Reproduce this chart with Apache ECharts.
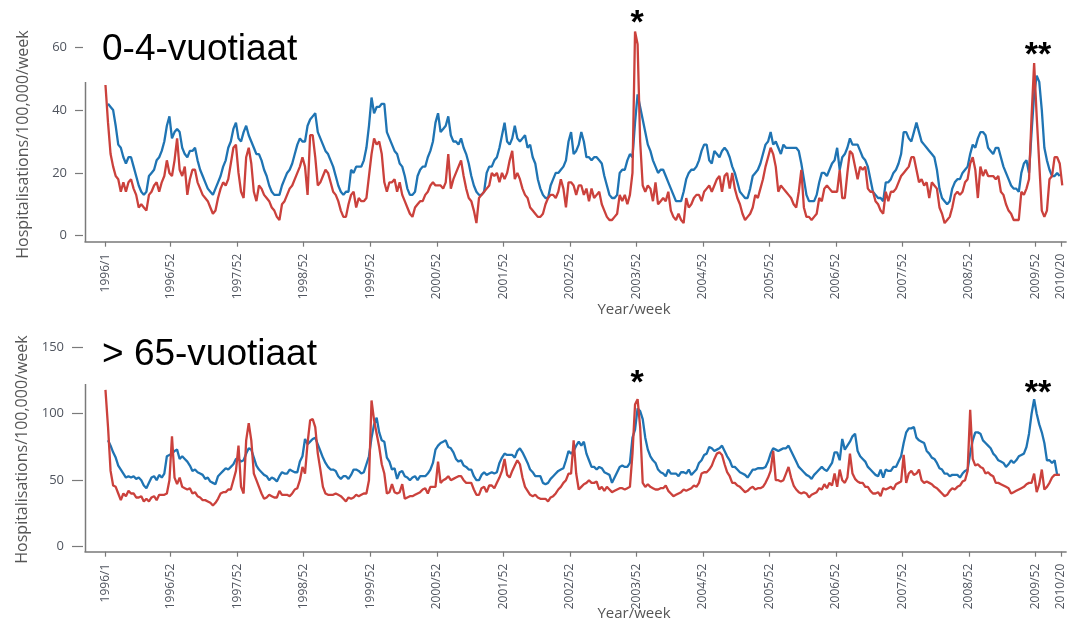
<!DOCTYPE html>
<html>
<head>
<meta charset="utf-8">
<title>Hospitalisations / 100,000 / week</title>
<script src="https://cdn.jsdelivr.net/npm/echarts@6.0.0/dist/echarts.min.js"></script>
<style>
  html, body { margin: 0; padding: 0; background: #fff; }
  #main { width: 1067px; height: 623px; }
</style>
</head>
<body>
<div id="main"></div>
<script>
// weekly series sampled every 2 weeks, index 0 = 1996/1
const WEEK_STEP = 2;

// x-axis ticks (week number counted from 1996/1) and their labels
const tickWeeks = [0, 51, 103, 155, 207, 259, 311, 363, 415, 467, 519, 571, 623, 675, 727, 747];
const tickLabels = ['1996/1', '1996/52', '1997/52', '1998/52', '1999/52', '2000/52', '2001/52',
  '2002/52', '2003/52', '2004/52', '2005/52', '2006/52', '2007/52', '2008/52', '2009/52', '2010/20'];

const yTicksKids = [0, 20, 40, 60];
const yTicksOld = [0, 50, 100, 150];

// 0-4 year olds, blue
const kidsBlue = [null,
  42,41,40,35,29,28,25,23,25,25,22,19,16,14,13,14,19,20,21,24,25,27,30,35,38,
  31,33,34,33,28,26,25,27,27,28,24,21,19,17,15,14,13,15,17,19,22,24,28,30,34,
  36,31,30,33,35,32,30,28,26,26,24,21,19,16,14,13,13,13,16,18,20,21,23,26,29,
  31,30,30,35,37,38,39,33,31,29,27,26,24,22,19,16,14,13,14,14,21,20,22,22,22,
  24,28,35,44,39,41,41,42,42,33,31,29,27,26,23,22,19,15,13,13,14,19,21,22,22,
  25,27,30,36,39,33,34,35,38,32,30,30,29,31,28,26,23,19,16,14,13,13,14,20,22,
  22,24,25,28,32,36,30,29,31,35,31,30,31,32,28,29,25,23,18,15,13,12,12,16,18,
  20,20,21,22,24,30,33,26,27,29,33,30,25,25,24,25,25,24,23,19,16,13,12,12,13,
  20,21,21,24,26,25,36,45,41,37,33,29,27,24,22,20,21,21,19,17,15,13,11,11,11,
  14,18,20,21,21,22,24,27,29,29,24,23,27,26,25,27,28,27,25,22,20,17,14,13,12,
  12,15,19,20,21,23,26,29,30,33,29,30,28,26,29,28,28,28,28,28,27,23,18,13,11,
  11,11,13,17,20,20,19,21,23,24,28,21,25,26,28,31,29,29,29,27,25,24,22,18,14,
  13,12,12,11,17,17,18,20,21,23,26,33,33,31,30,33,36,33,30,29,28,27,26,25,21,
  15,12,11,10,11,15,17,18,18,20,21,22,26,29,28,31,33,33,32,28,27,26,28,28,25,
  22,20,18,16,15,15,14,20,23,24,20,33,45,51,49,40,28,24,21,19,19,20,19];

// 0-4 year olds, red
const kidsRed = [48,
  36,26,22,19,18,14,17,14,17,18,15,13,9,10,9,8,13,14,16,17,14,17,19,24,20,
  19,24,31,21,19,22,13,18,21,21,17,15,13,12,11,9,7,8,12,15,17,16,18,23,28,
  29,20,14,12,25,28,23,14,11,16,15,13,12,11,9,8,6,5,10,11,13,15,16,18,20,
  22,25,22,13,32,32,25,16,17,19,21,20,17,14,13,11,8,6,6,10,13,14,9,12,11,
  11,12,19,26,31,29,30,26,17,14,17,17,18,14,17,13,11,9,7,6,9,10,11,11,13,
  14,16,17,16,16,16,15,17,26,15,18,20,22,24,19,15,12,11,8,4,12,13,14,15,16,
  20,19,20,17,20,18,20,24,27,18,20,18,15,13,12,9,8,7,6,6,7,10,12,13,13,
  12,14,18,15,9,17,17,16,13,16,16,13,15,11,15,12,13,14,10,8,6,5,5,6,7,
  13,11,13,10,13,20,65,61,30,16,14,16,15,11,17,10,11,12,11,14,8,6,5,7,5,
  4,12,9,10,12,13,13,11,14,15,16,14,16,18,19,14,19,20,15,20,15,12,10,7,5,
  6,7,9,13,12,15,18,22,25,28,26,22,14,16,15,14,13,12,10,9,14,21,9,6,6,
  5,6,7,12,11,15,16,15,14,14,14,21,12,12,20,27,26,22,18,22,21,22,15,14,14,
  11,10,8,7,14,11,14,14,15,17,19,20,21,22,25,25,21,17,18,16,17,12,17,16,15,
  9,7,4,5,6,9,13,14,13,14,17,18,23,25,21,12,22,19,21,19,19,19,18,19,14,
  13,10,8,7,5,5,5,14,13,15,18,38,55,38,23,8,6,8,18,19,25,25,23,16];

// over 65 year olds, blue
const oldBlue = [null,
  80,76,71,67,61,58,55,52,53,52,53,51,52,50,46,44,48,52,53,50,54,52,55,68,69,
  70,72,73,66,68,66,64,61,57,58,56,55,54,51,52,49,48,47,53,55,57,59,58,60,62,
  66,66,64,65,70,74,73,67,61,58,56,54,53,50,52,51,49,53,56,55,55,58,57,56,56,
  64,68,81,77,79,81,82,77,72,67,63,60,58,58,57,53,51,53,53,51,54,58,58,57,55,
  56,62,68,82,92,97,86,80,79,67,64,58,59,51,56,57,53,52,50,52,53,50,53,53,53,
  55,58,63,73,76,78,79,80,75,74,71,66,64,65,61,60,58,58,53,50,50,54,56,54,55,
  56,55,56,63,67,70,69,69,69,67,72,74,71,67,63,58,56,53,53,53,48,47,48,51,53,
  55,57,58,59,65,72,70,72,76,79,76,79,70,65,60,60,58,60,59,56,55,54,48,52,56,
  60,61,60,60,63,82,88,104,102,96,82,73,68,65,63,58,56,55,53,58,55,55,55,53,56,
  56,55,58,54,56,58,63,65,69,70,75,74,72,73,74,76,72,68,65,60,60,58,56,55,54,
  52,55,58,58,59,59,59,60,64,70,74,73,72,73,74,74,76,72,68,64,60,58,56,54,53,
  51,54,56,58,60,58,57,60,63,71,71,65,81,73,76,79,83,85,72,68,66,64,60,58,56,
  54,53,58,52,58,57,57,60,60,64,68,78,86,89,89,90,82,80,79,78,72,70,67,66,63,
  59,58,55,55,53,54,54,54,52,55,57,58,70,80,86,86,85,80,78,76,74,70,68,65,64,
  63,60,62,65,63,65,68,69,70,75,85,100,111,100,92,86,78,65,65,63,65,54,54];

// over 65 year olds, red
const oldRed = [118,
  90,57,46,45,40,35,40,38,42,40,40,37,37,38,34,36,34,37,38,35,39,39,39,40,50,
  83,52,47,52,45,44,43,44,40,41,38,37,35,35,34,33,31,33,36,40,41,41,43,43,50,
  57,76,45,40,80,93,80,55,50,45,40,36,37,39,38,37,37,42,39,39,39,38,40,43,44,
  50,60,55,78,95,96,90,70,58,45,40,39,39,39,40,39,38,36,34,37,36,37,39,38,39,
  40,40,50,110,95,85,75,62,55,40,41,47,41,40,41,47,36,37,38,38,39,40,41,43,44,
  40,45,45,45,64,48,50,51,53,50,51,52,53,53,50,48,48,48,43,39,39,44,45,41,46,
  46,44,48,52,57,66,54,52,57,61,65,62,52,45,42,39,38,39,37,36,36,36,34,37,38,
  40,43,45,48,50,55,55,80,55,43,45,47,48,50,48,48,49,43,45,42,45,43,41,42,43,
  44,44,43,44,45,70,107,111,90,48,45,47,45,44,43,43,44,44,46,42,40,38,39,40,41,
  43,42,43,44,46,45,48,55,56,56,58,61,66,70,71,69,62,56,53,48,48,46,45,43,41,
  42,44,45,43,44,44,45,48,52,57,72,50,50,49,50,55,60,52,46,43,41,40,41,40,37,
  39,40,41,44,43,47,44,48,46,55,45,58,50,48,52,70,55,51,49,48,48,45,45,42,40,
  40,41,38,44,43,44,45,43,47,48,49,69,48,55,57,54,55,58,50,48,49,48,47,45,44,
  42,40,38,39,42,44,43,45,46,49,50,57,103,66,61,62,60,59,55,56,54,53,48,48,47,
  46,45,44,40,41,42,43,44,45,47,48,48,55,41,47,58,43,45,48,52,54,54,54];

const BLUE = '#1f74b3';
const RED = '#cb413c';
const AXIS = '#7a7a7a';
const TEXT = '#50555f';
const yName = 'Hospitalisations/100,000/week';

function toPoints(arr) {
  return arr.map((v, i) => [i * WEEK_STEP, v]).filter(p => p[1] != null);
}

function xAxisFor(gridIndex) {
  return {
    type: 'value', gridIndex: gridIndex,
    min: -16, max: 751,
    splitLine: { show: false },
    axisLine: { show: true, onZero: false, lineStyle: { color: AXIS, width: 1.5 } },
    axisTick: { show: true, customValues: tickWeeks, length: 5, lineStyle: { color: AXIS, width: 1.2 } },
    axisLabel: {
      customValues: tickWeeks, rotate: 90, margin: 12,
      color: TEXT, fontSize: 12, fontFamily: 'Open Sans',
      formatter: v => tickLabels[tickWeeks.indexOf(v)] || ''
    }
  };
}

function yAxisFor(gridIndex, min, max, ticks, tickLen, margin) {
  return {
    type: 'value', gridIndex: gridIndex,
    min: min, max: max, offset: 2,
    splitLine: { show: false },
    axisLine: { show: false, onZero: false },
    axisTick: { show: true, customValues: ticks, length: tickLen, lineStyle: { color: AXIS, width: 1.2 } },
    axisLabel: { customValues: ticks, margin: margin, color: TEXT, fontSize: 13, fontFamily: 'Open Sans' },
    name: yName, nameLocation: 'middle', nameGap: 52, nameRotate: 90,
    nameTextStyle: { color: '#555', fontSize: 16, fontFamily: 'Open Sans' }
  };
}

function lineSeries(data, color, gridIndex) {
  return {
    type: 'line', xAxisIndex: gridIndex, yAxisIndex: gridIndex,
    data: toPoints(data), showSymbol: false, silent: true, clip: false,
    lineStyle: { color: color, width: 2.3 }, itemStyle: { color: color }
  };
}

function label(text, x, y, font, align) {
  return {
    type: 'text', x: x, y: y, silent: true,
    style: { text: text, fill: '#000', font: font, align: align || 'left', verticalAlign: 'middle' }
  };
}

const TITLE_FONT = '37px "Liberation Sans", Arial, sans-serif';
const STAR_FONT = 'bold 34px "Liberation Sans", Arial, sans-serif';
const XNAME_FONT = '15px "Open Sans", sans-serif';

const chart = echarts.init(document.getElementById('main'), null, { renderer: 'canvas' });

const option = {
  animation: false,
  backgroundColor: '#fff',
  grid: [
    { left: 85, right: 0, top: 47.3, height: 194.4 },
    { left: 85, right: 0, top: 347.3, height: 204.4 }
  ],
  xAxis: [xAxisFor(0), xAxisFor(1)],
  yAxis: [
    yAxisFor(0, -1.91, 60, yTicksKids, 8, 16),
    yAxisFor(1, -3.8, 150, yTicksOld, 11, 19)
  ],
  series: [
    lineSeries(kidsBlue, BLUE, 0),
    lineSeries(kidsRed, RED, 0),
    lineSeries(oldBlue, BLUE, 1),
    lineSeries(oldRed, RED, 1)
  ],
  graphic: [
    // short y-axis lines, as in the original
    { type: 'line', silent: true, shape: { x1: 85.5, y1: 82, x2: 85.5, y2: 242 },
      style: { stroke: AXIS, lineWidth: 1.5 } },
    { type: 'line', silent: true, shape: { x1: 85.5, y1: 384, x2: 85.5, y2: 552 },
      style: { stroke: AXIS, lineWidth: 1.5 } },
    label('0-4-vuotiaat', 102, 50, TITLE_FONT),
    label('> 65-vuotiaat', 102, 355, TITLE_FONT),
    label('*', 637, 24, STAR_FONT, 'center'),
    label('**', 1038, 56, STAR_FONT, 'center'),
    label('*', 637, 384, STAR_FONT, 'center'),
    label('**', 1038, 394, STAR_FONT, 'center'),
    { type: 'text', x: 634, y: 310, silent: true,
      style: { text: 'Year/week', fill: '#555', align: 'center', verticalAlign: 'middle', font: XNAME_FONT } },
    { type: 'text', x: 634, y: 614, silent: true,
      style: { text: 'Year/week', fill: '#555', align: 'center', verticalAlign: 'middle', font: XNAME_FONT } }
  ]
};

chart.setOption(option);
</script>
</body>
</html>
